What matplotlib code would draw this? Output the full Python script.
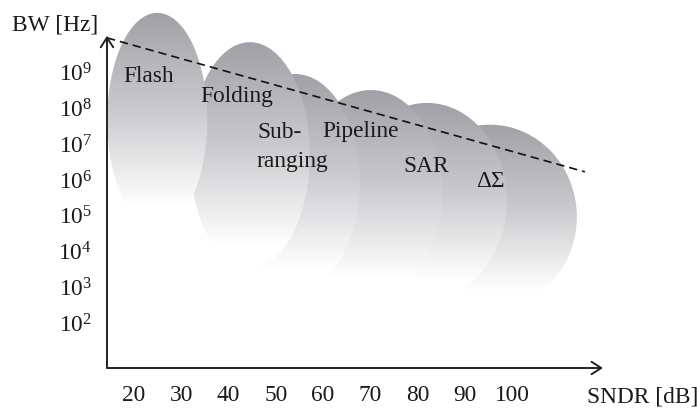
import numpy as np
import matplotlib
matplotlib.use("Agg")
import matplotlib.pyplot as plt
from matplotlib.patches import Ellipse
from matplotlib.colors import LinearSegmentedColormap

plt.rcParams["font.family"] = ["Liberation Serif", "DejaVu Serif"]
plt.rcParams["mathtext.fontset"] = "custom"
plt.rcParams["mathtext.rm"] = "Liberation Serif"

# ADC architecture regions: centre and half-extent (SNDR in dB, bandwidth as log10 Hz)
architectures = ["Flash", "Folding", "Sub-\nranging", "Pipeline", "SAR", "ΔΣ"]
center_sndr = [24.9, 44.5, 54.0, 70.1, 82.0, 95.3]
center_log_bw = [7.68, 6.70, 5.95, 5.61, 5.42, 4.97]
half_sndr = [10.6, 12.7, 13.8, 15.2, 16.9, 18.4]
half_log_bw = [3.00, 3.16, 3.02, 2.91, 2.74, 2.58]

# label anchors (left edge, last-line baseline)
label_sndr = [17.65, 33.95, 46.0, 59.75, 76.9, 92.36]
label_log_bw = [8.75, 8.19, 6.37, 7.21, 6.23, 5.81]

# speed/resolution trade-off line
trend_sndr = [14.26, 115.4]
trend_log_bw = [9.98, 6.23]

sndr_ticks = [20, 30, 40, 50, 60, 70, 80, 90, 100]
bw_exponents = [2, 3, 4, 5, 6, 7, 8, 9]

# axis extents
x_origin, x_end = 14.26, 119.24
y_origin, y_end = 0.74, 10.04

FS = 16.8
INK = "#1a1a1a"

fig = plt.figure(figsize=(6.97, 4.08), dpi=100)
ax = fig.add_axes([107 / 697, 40 / 408, 590 / 697, 368 / 408])

shade = LinearSegmentedColormap.from_list(
    "shade", [(0.0, (0.630, 0.634, 0.655)),
              (0.45, (0.79, 0.79, 0.805)),
              (0.9, (1.0, 1.0, 1.0)),
              (1.0, (1.0, 1.0, 1.0))])
ramp = np.linspace(0, 1, 256).reshape(-1, 1)

n = len(architectures)
for i in range(n):
    cx, cy = center_sndr[i], center_log_bw[i]
    a, b = half_sndr[i], half_log_bw[i]
    z = 1 + (n - i) * 0.1
    ell = Ellipse((cx, cy), 2 * a, 2 * b, facecolor="none", edgecolor="none")
    ax.add_patch(ell)
    im = ax.imshow(ramp, cmap=shade, vmin=0, vmax=1, aspect="auto",
                   origin="upper", interpolation="bilinear",
                   extent=[cx - a, cx + a, cy - b, cy + b], zorder=z)
    im.set_clip_path(ell)

for name, lx, ly in zip(architectures, label_sndr, label_log_bw):
    ax.text(lx, ly, name, fontsize=FS, ha="left", va="baseline",
            color=INK, linespacing=1.47, zorder=5)

ax.plot(trend_sndr, trend_log_bw, color="#111111", lw=1.2,
        linestyle=(0, (5, 3)), zorder=4, clip_on=False)

arrow = dict(arrowstyle="->,head_length=0.7,head_width=0.45", color="#222222",
             lw=1.4, shrinkA=0, shrinkB=0, mutation_scale=10)
ax.annotate("", xy=(x_end, y_origin), xytext=(x_origin, y_origin),
            arrowprops=arrow, annotation_clip=False, zorder=6)
ax.annotate("", xy=(x_origin, y_end), xytext=(x_origin, y_origin),
            arrowprops=arrow, annotation_clip=False, zorder=6)

ax.set_xlim(14.26, 139.13)
ax.set_ylim(0.74, 11.04)
ax.set_xticks(sndr_ticks)
ax.set_xticklabels([str(t) for t in sndr_ticks])
ax.set_yticks(bw_exponents)
ax.set_yticklabels([r"$\mathregular{10^{%d}}$" % e for e in bw_exponents])
ax.tick_params(axis="x", length=0, pad=12.5, labelsize=FS, colors=INK)
ax.tick_params(axis="y", length=0, pad=10.8, labelsize=FS, colors=INK)
for s in ax.spines.values():
    s.set_visible(False)
ax.patch.set_alpha(0)

fig.text(12 / 697, 1 - 30 / 408, "BW [Hz]", fontsize=FS, ha="left",
         va="baseline", color=INK)
fig.text(587 / 697, 1 - 403 / 408, "SNDR [dB]", fontsize=FS, ha="left",
         va="baseline", color=INK)

fig.savefig("out.png", dpi=100, facecolor="white")
